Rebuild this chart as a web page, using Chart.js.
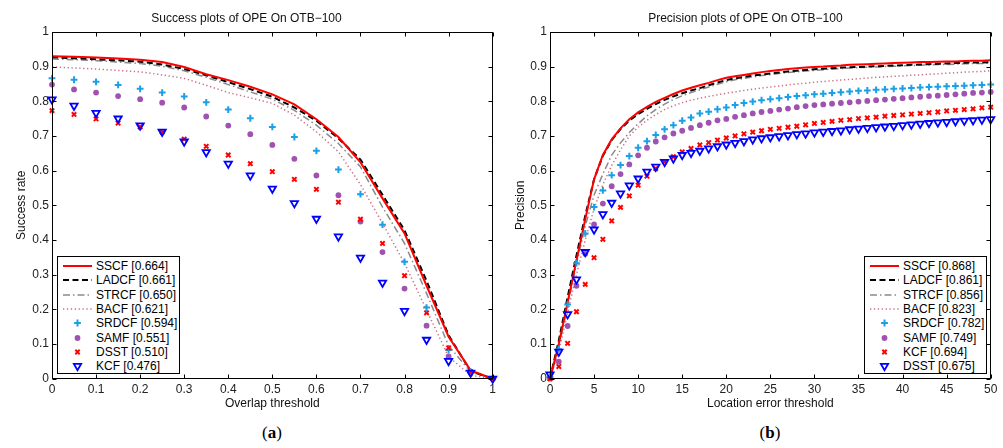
<!DOCTYPE html>
<html>
<head>
<meta charset="utf-8">
<script src="https://cdn.jsdelivr.net/npm/chart.js@4/dist/chart.umd.min.js"></script>
<style>
html,body{margin:0;padding:0;background:#fff;}
#wrap{position:relative;width:1003px;height:448px;overflow:hidden;font-family:'Liberation Sans',Arial,sans-serif;background:#fff;}
#c1{position:absolute;left:0;top:0;}
#c2{position:absolute;left:500px;top:0;}
.legend{position:absolute;border:1px solid #000;background:#fff;box-sizing:border-box;}
.row{position:absolute;left:0;height:14px;width:100%;}
.row svg{position:absolute;left:0;top:0;}
.row span{position:absolute;left:38px;top:0;font-size:12px;line-height:14px;color:#000;white-space:nowrap;}
.cap{position:absolute;top:423px;width:60px;margin-left:-30px;text-align:center;font-family:'Liberation Serif','DejaVu Serif',serif;font-size:17px;line-height:20px;color:#000;}
</style>
</head>
<body>
<div id="wrap">
  <canvas id="c1" width="500" height="420" style="width:500px;height:420px"></canvas>
  <canvas id="c2" width="503" height="420" style="width:503px;height:420px"></canvas>
  <div class="cap" style="left:272px">(<b>a</b>)</div>
  <div class="cap" style="left:770px">(<b>b</b>)</div>
</div>
<script>
// ---------- data ----------
const yTicks = [0,0.1,0.2,0.3,0.4,0.5,0.6,0.7,0.8,0.9,1];
const yTickLabels = ['0','0.1','0.2','0.3','0.4','0.5','0.6','0.7','0.8','0.9','1'];
const successXTicks = [0,0.1,0.2,0.3,0.4,0.5,0.6,0.7,0.8,0.9,1];
const successXTickLabels = ['0','0.1','0.2','0.3','0.4','0.5','0.6','0.7','0.8','0.9','1'];
const precisionXTicks = [0,5,10,15,20,25,30,35,40,45,50];
const precisionXTickLabels = ['0','5','10','15','20','25','30','35','40','45','50'];

const successThresholds = [0,0.05,0.1,0.15,0.2,0.25,0.3,0.35,0.4,0.45,0.5,0.55,0.6,0.65,0.7,0.75,0.8,0.85,0.9,0.95,1];
const successNames  = ['SSCF','LADCF','STRCF','BACF','SRDCF','SAMF','DSST','KCF'];
const successScores = ['0.664','0.661','0.650','0.621','0.594','0.551','0.510','0.476'];
const succSSCF  = [0.930,0.928,0.926,0.923,0.920,0.913,0.899,0.878,0.861,0.842,0.820,0.791,0.748,0.697,0.624,0.520,0.419,0.268,0.121,0.024,0];
const succLADCF = [0.927,0.924,0.921,0.918,0.914,0.906,0.893,0.875,0.855,0.835,0.813,0.782,0.744,0.693,0.632,0.530,0.428,0.282,0.125,0.022,0];
const succSTRCF = [0.922,0.920,0.917,0.913,0.909,0.901,0.888,0.869,0.848,0.827,0.806,0.774,0.731,0.678,0.611,0.495,0.390,0.246,0.095,0.020,0];
const succBACF  = [0.899,0.896,0.893,0.889,0.885,0.876,0.866,0.846,0.825,0.810,0.794,0.760,0.712,0.654,0.560,0.448,0.333,0.198,0.063,0.010,0];
const succSRDCF = [0.866,0.862,0.856,0.847,0.836,0.825,0.814,0.797,0.776,0.751,0.726,0.697,0.657,0.603,0.532,0.444,0.337,0.205,0.083,0.020,0];
const succSAMF  = [0.848,0.834,0.825,0.815,0.806,0.796,0.782,0.756,0.730,0.705,0.674,0.634,0.586,0.529,0.453,0.365,0.260,0.153,0.064,0.017,0];
const succDSST  = [0.773,0.762,0.749,0.737,0.726,0.711,0.691,0.670,0.645,0.620,0.597,0.575,0.546,0.509,0.460,0.390,0.297,0.190,0.089,0.020,0];
const succKCF   = [0.805,0.787,0.766,0.750,0.730,0.712,0.684,0.653,0.620,0.586,0.548,0.506,0.461,0.410,0.349,0.277,0.195,0.112,0.051,0.017,0];

const precisionThresholds = [0,1,2,3,4,5,6,7,8,9,10,11,12,13,14,15,16,17,18,19,20,21,22,23,24,25,26,27,28,29,30,31,32,33,34,35,36,37,38,39,40,41,42,43,44,45,46,47,48,49,50];
const precisionNames  = ['SSCF','LADCF','STRCF','BACF','SRDCF','SAMF','KCF','DSST'];
const precisionScores = ['0.868','0.861','0.856','0.823','0.782','0.749','0.694','0.675'];
const precSSCF  = [0,0.10,0.22,0.34,0.46,0.575,0.645,0.69,0.722,0.748,0.768,0.784,0.798,0.81,0.821,0.831,0.839,0.846,0.853,0.861,0.868,0.872,0.876,0.880,0.884,0.887,0.890,0.893,0.895,0.897,0.899,0.900,0.902,0.903,0.905,0.906,0.907,0.908,0.909,0.910,0.911,0.912,0.913,0.913,0.914,0.915,0.915,0.916,0.917,0.917,0.918];
const precLADCF = [0,0.11,0.235,0.355,0.47,0.575,0.643,0.688,0.72,0.744,0.763,0.778,0.792,0.804,0.814,0.823,0.831,0.838,0.846,0.854,0.861,0.866,0.870,0.874,0.877,0.880,0.883,0.886,0.888,0.890,0.892,0.894,0.895,0.897,0.898,0.899,0.900,0.901,0.902,0.903,0.904,0.905,0.906,0.907,0.908,0.909,0.910,0.911,0.912,0.912,0.913];
const precSTRCF = [0,0.09,0.21,0.33,0.44,0.53,0.59,0.645,0.68,0.71,0.735,0.758,0.776,0.792,0.805,0.816,0.825,0.833,0.841,0.849,0.856,0.862,0.866,0.870,0.874,0.877,0.880,0.883,0.885,0.887,0.889,0.891,0.893,0.894,0.896,0.897,0.898,0.899,0.900,0.901,0.902,0.903,0.904,0.905,0.906,0.906,0.907,0.908,0.909,0.909,0.910];
const precBACF  = [0,0.08,0.19,0.30,0.40,0.49,0.56,0.615,0.66,0.70,0.725,0.745,0.762,0.776,0.787,0.796,0.803,0.809,0.814,0.819,0.823,0.827,0.831,0.835,0.838,0.841,0.844,0.847,0.850,0.852,0.855,0.857,0.859,0.861,0.863,0.865,0.867,0.869,0.870,0.872,0.873,0.875,0.876,0.878,0.879,0.881,0.882,0.884,0.885,0.886,0.888];
const precSRDCF = [0.005,0.085,0.214,0.333,0.419,0.495,0.543,0.587,0.616,0.642,0.666,0.685,0.703,0.719,0.731,0.744,0.753,0.765,0.770,0.777,0.782,0.789,0.795,0.799,0.803,0.806,0.809,0.812,0.815,0.817,0.820,0.822,0.824,0.826,0.828,0.830,0.831,0.833,0.834,0.836,0.837,0.838,0.840,0.841,0.842,0.843,0.844,0.845,0.846,0.847,0.848];
const precSAMF  = [0,0.049,0.152,0.268,0.36,0.445,0.505,0.555,0.59,0.618,0.644,0.666,0.684,0.696,0.707,0.715,0.723,0.731,0.738,0.745,0.749,0.755,0.760,0.765,0.769,0.772,0.776,0.779,0.783,0.786,0.789,0.791,0.793,0.795,0.797,0.799,0.801,0.803,0.805,0.807,0.809,0.811,0.813,0.815,0.816,0.818,0.820,0.822,0.824,0.825,0.827];
const precKCF   = [0,0.035,0.102,0.193,0.272,0.349,0.402,0.455,0.494,0.527,0.558,0.584,0.606,0.625,0.64,0.654,0.664,0.674,0.681,0.688,0.694,0.700,0.706,0.711,0.715,0.719,0.722,0.725,0.728,0.732,0.736,0.739,0.742,0.745,0.747,0.750,0.752,0.754,0.757,0.759,0.761,0.763,0.765,0.767,0.769,0.772,0.774,0.776,0.778,0.781,0.783];
const precDSST  = [0.012,0.078,0.186,0.286,0.365,0.43,0.474,0.507,0.534,0.557,0.577,0.597,0.611,0.625,0.635,0.645,0.651,0.657,0.664,0.670,0.675,0.680,0.685,0.690,0.693,0.696,0.699,0.702,0.705,0.707,0.710,0.712,0.714,0.716,0.719,0.721,0.723,0.725,0.727,0.729,0.731,0.733,0.735,0.737,0.739,0.740,0.742,0.744,0.745,0.747,0.748];

// ---------- styles ----------
const FONT = "'Liberation Sans', Arial, sans-serif";
const styles = [
  {kind:'line', color:'#ff0000', width:2,   dash:[],              order:5},
  {kind:'line', color:'#000000', width:2,   dash:[6,3.5],         order:6},
  {kind:'line', color:'#8a8a8a', width:1.5, dash:[7,3,1.5,3],     order:7},
  {kind:'line', color:'#cc6f80', width:1.5, dash:[1.3,2.6],       order:8},
  {kind:'pt', color:'#1aa0e6', point:'cross',    r:3.4, bw:2,   order:4},
  {kind:'pt', color:'#a052b0', point:'circle',   r:2.9, bw:0,   order:3},
  {kind:'pt', color:'#ff0000', point:'crossRot', r:3.1, bw:2,   order:2},
  {kind:'pt', color:'#0000ff', point:'triangle', r:4.2, bw:1.8, order:1}
];

Chart.defaults.font.family = FONT;

function makeDatasets(xs, seriesList, names) {
  return seriesList.map((vals, i) => {
    const s = styles[i];
    const data = xs.map((x, j) => ({x: x, y: vals[j]}));
    if (s.kind === 'line') {
      return {label: names[i], data, showLine: true, borderColor: s.color, borderWidth: s.width,
        borderDash: s.dash, pointRadius: 0, tension: 0, fill: false, order: s.order, clip: false,
        borderCapStyle: 'butt'};
    }
    return {label: names[i], data, showLine: false, pointStyle: s.point, pointRadius: s.r,
      pointBorderWidth: s.bw, pointBorderColor: s.color,
      pointBackgroundColor: s.point === 'circle' ? s.color : 'rgba(0,0,0,0)',
      pointRotation: s.point === 'triangle' ? 180 : 0, order: s.order, clip: false};
  });
}

const framePlugin = {
  id: 'frame',
  afterDraw(chart) {
    const {ctx, chartArea: a, scales} = chart;
    const x = scales.x, y = scales.y;
    ctx.save();
    ctx.strokeStyle = '#000';
    ctx.lineWidth = 1;
    const L = Math.round(a.left) + 0.5, R = Math.round(a.right) - 0.5;
    const T = Math.round(a.top) + 0.5, B = Math.round(a.bottom) - 0.5;
    ctx.strokeRect(L, T, R - L, B - T);
    const tl = 4;
    ctx.beginPath();
    x.ticks.forEach(t => {
      const px = Math.round(x.getPixelForValue(t.value)) + 0.5;
      ctx.moveTo(px, B); ctx.lineTo(px, B - tl);
      ctx.moveTo(px, T); ctx.lineTo(px, T + tl);
    });
    y.ticks.forEach(t => {
      const py = Math.round(y.getPixelForValue(t.value)) + 0.5;
      ctx.moveTo(L, py); ctx.lineTo(L + tl, py);
      ctx.moveTo(R, py); ctx.lineTo(R - tl, py);
    });
    ctx.stroke();
    ctx.restore();
  }
};

function makeChart(id, cfg) {
  const ctx = document.getElementById(id);
  return new Chart(ctx, {
    type: 'scatter',
    data: {datasets: makeDatasets(cfg.xs, cfg.series, cfg.names)},
    options: {
      responsive: false, animation: false, devicePixelRatio: 1, events: [],
      layout: {padding: {left: 0, right: cfg.padRight, top: 0, bottom: 0}},
      plugins: {
        legend: {display: false}, tooltip: {enabled: false},
        title: {display: true, text: cfg.title, color: '#111',
          font: {family: FONT, size: 12, weight: 'normal'}, padding: {top: 11, bottom: 6.5}}
      },
      scales: {
        x: {
          type: 'linear', min: 0, max: cfg.xMax,
          grid: {display: false, drawTicks: false}, border: {display: false},
          afterBuildTicks: s => { s.ticks = cfg.xTicks.map(v => ({value: v})); },
          ticks: {autoSkip: false, maxRotation: 0, padding: 4, color: '#222',
            font: {family: FONT, size: 12}, callback: (v, i) => cfg.xLabels[i]},
          title: {display: true, text: cfg.xTitle, color: '#111',
            font: {family: FONT, size: 12}, padding: {top: 0, bottom: 9}},
          afterFit: s => { s.height = 41.3; }
        },
        y: {
          type: 'linear', min: 0, max: 1,
          grid: {display: false, drawTicks: false}, border: {display: false},
          afterBuildTicks: s => { s.ticks = yTicks.map(v => ({value: v})); },
          ticks: {autoSkip: false, padding: 3, color: '#222',
            font: {family: FONT, size: 12}, callback: (v, i) => yTickLabels[i]},
          title: {display: true, text: cfg.yTitle, color: '#111',
            font: {family: FONT, size: 12}, padding: {top: cfg.yTitlePad, bottom: 0}},
          afterFit: s => { s.width = cfg.yWidth; }
        }
      }
    },
    plugins: [framePlugin]
  });
}

makeChart('c1', {
  xs: successThresholds,
  series: [succSSCF, succLADCF, succSTRCF, succBACF, succSRDCF, succSAMF, succDSST, succKCF],
  names: successNames, title: 'Success plots of OPE On OTB\u2212100',
  xTitle: 'Overlap threshold', yTitle: 'Success rate', xMax: 1,
  xTicks: successXTicks, xLabels: successXTickLabels, padRight: 7, yWidth: 52, yTitlePad: 14.5
});
makeChart('c2', {
  xs: precisionThresholds,
  series: [precSSCF, precLADCF, precSTRCF, precBACF, precSRDCF, precSAMF, precKCF, precDSST],
  names: precisionNames, title: 'Precision plots of OPE On OTB\u2212100',
  xTitle: 'Location error threshold', yTitle: 'Precision', xMax: 50,
  xTicks: precisionXTicks, xLabels: precisionXTickLabels, padRight: 12.3, yWidth: 50, yTitlePad: 13.3
});

// ---------- legends (HTML) ----------
function sampleSVG(s) {
  let inner = '';
  const cx = 19.5, cy = 7;
  if (s.kind === 'line') {
    const dash = s.dash.length ? ` stroke-dasharray="${s.dash.join(',')}"` : '';
    inner = `<line x1="5" y1="${cy}" x2="34" y2="${cy}" stroke="${s.color}" stroke-width="${s.width}"${dash}/>`;
  } else if (s.point === 'cross') {
    inner = `<path d="M${cx - s.r} ${cy}H${cx + s.r}M${cx} ${cy - s.r}V${cy + s.r}" stroke="${s.color}" stroke-width="${s.bw}"/>`;
  } else if (s.point === 'circle') {
    inner = `<circle cx="${cx}" cy="${cy}" r="${s.r}" fill="${s.color}"/>`;
  } else if (s.point === 'crossRot') {
    const d = s.r * 0.707;
    inner = `<path d="M${cx - d} ${cy - d}L${cx + d} ${cy + d}M${cx - d} ${cy + d}L${cx + d} ${cy - d}" stroke="${s.color}" stroke-width="${s.bw}"/>`;
  } else if (s.point === 'triangle') {
    const r = s.r, w = r * 0.866;
    inner = `<path d="M${cx - w} ${cy - r / 2}L${cx + w} ${cy - r / 2}L${cx} ${cy + r}Z" fill="none" stroke="${s.color}" stroke-width="${s.bw}"/>`;
  }
  return `<svg width="40" height="14" viewBox="0 0 40 14">${inner}</svg>`;
}
function buildLegend(left, top, names, scores) {
  const box = document.createElement('div');
  box.className = 'legend';
  box.style.left = left + 'px'; box.style.top = top + 'px';
  box.style.width = '123px'; box.style.height = '118px';
  names.forEach((n, i) => {
    const row = document.createElement('div');
    row.className = 'row';
    row.style.top = (2 + i * 14.3) + 'px';
    row.innerHTML = sampleSVG(styles[i]) + `<span>${n} [${scores[i]}]</span>`;
    box.appendChild(row);
  });
  document.getElementById('wrap').appendChild(box);
}
buildLegend(57, 256, successNames, successScores);
buildLegend(864, 256, precisionNames, precisionScores);
</script>
</body>
</html>
